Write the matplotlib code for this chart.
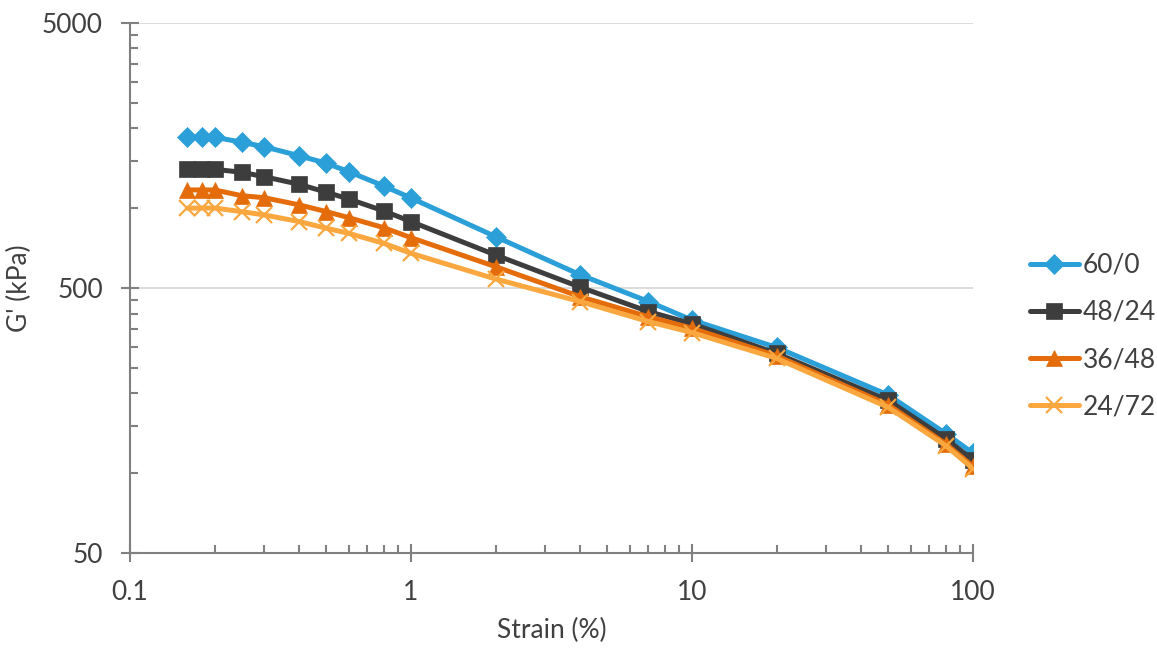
import numpy as np
import matplotlib.pyplot as plt
from matplotlib.ticker import FixedLocator, NullFormatter

plt.rcParams['font.family'] = ['Lato', 'DejaVu Sans']

# strain (%) and storage modulus G' (kPa) for each blend
strain = [0.16, 0.18, 0.2, 0.25, 0.3, 0.4, 0.5, 0.6, 0.8, 1, 2, 4, 7, 10, 20, 50, 80, 100]
g_60_0 = [1850, 1850, 1850, 1771, 1703, 1575, 1475, 1372, 1211, 1091,
          780, 560, 444, 378, 298, 197, 141, 119]
g_48_24 = [1403, 1400, 1400, 1364, 1313, 1229, 1147, 1082, 975, 889,
           665, 503, 407, 366, 283, 188, 135, 112]
g_36_48 = [1170, 1170, 1170, 1113, 1094, 1028, 969, 920, 843, 773,
           601, 463, 389, 352, 277, 181, 129, 106]
g_24_72 = [998, 1000, 1000, 969, 942, 889, 839, 803, 736, 675,
           540, 444, 373, 339, 271, 177, 127, 104]

labels = ["60/0", "48/24", "36/48", "24/72"]
series = [g_60_0, g_48_24, g_36_48, g_24_72]
colors = ["#2A9FD8", "#3D3D3D", "#E46C0A", "#F9A73E"]
markers = ["D", "s", "^", "x"]
msizes = [10.5, 12, 12, 12]

txt = "#404040"
axc = "#808080"

fig = plt.figure(figsize=(11.57, 6.48), dpi=100)
ax = fig.add_axes([130 / 1157, 1 - 553 / 648, 843 / 1157, (553 - 22.7) / 648])

for y, lab, c, m, ms in zip(series, labels, colors, markers, msizes):
    ax.plot(strain, y, color=c, lw=3.6, marker=m, markersize=ms,
            markeredgewidth=1.6 if m == "x" else 0.5, markeredgecolor=c,
            label=lab, solid_capstyle="round")

ax.set_xscale("log")
ax.set_yscale("log")
ax.set_xlim(0.1, 100)
ax.set_ylim(50, 5000)

ax.xaxis.set_major_locator(FixedLocator([0.1, 1, 10, 100]))
ax.xaxis.set_minor_locator(FixedLocator(
    [d * k for d in (0.1, 1, 10) for k in range(2, 10)]))
ax.yaxis.set_major_locator(FixedLocator([50, 500, 5000]))
ax.yaxis.set_minor_locator(FixedLocator(
    [d * k for d in (50, 500) for k in range(2, 10)]))
ax.xaxis.set_minor_formatter(NullFormatter())
ax.yaxis.set_minor_formatter(NullFormatter())
ax.set_xticklabels(["0.1", "1", "10", "100"])
ax.set_yticklabels(["50", "500", "5000"])

ax.tick_params(which="major", direction="inout", length=13, width=1.5,
               color=axc, labelsize=19, labelcolor=txt, pad=13)
ax.tick_params(which="minor", direction="in", length=6, width=1.5, color=axc)

ax.grid(axis="y", which="major", color="#D9D9D9", lw=1.3)
ax.set_axisbelow(True)
for s in ("top", "right"):
    ax.spines[s].set_visible(False)
for s in ("left", "bottom"):
    ax.spines[s].set_color(axc)
    ax.spines[s].set_linewidth(1.5)

ax.set_xlabel("Strain (%)", fontsize=19, color=txt, labelpad=9)
ax.set_ylabel("G' (kPa)", fontsize=19, color=txt, labelpad=7)

leg = ax.legend(loc="center left", bbox_to_anchor=(1030 / 1157, 1 - 336 / 648),
                bbox_transform=fig.transFigure, frameon=False,
                fontsize=19, labelspacing=0.84, handlelength=1.85,
                handletextpad=0.15, borderaxespad=0, borderpad=0)
for t in leg.get_texts():
    t.set_color(txt)

fig.savefig("out.png", dpi=100)
